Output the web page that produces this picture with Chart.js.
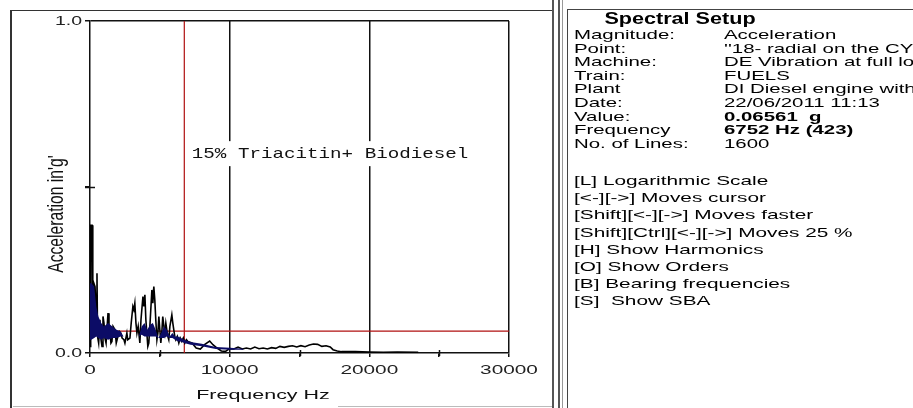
<!DOCTYPE html>
<html>
<head>
<meta charset="utf-8">
<script src="https://cdn.jsdelivr.net/npm/chart.js@4.4.1/dist/chart.umd.min.js"></script>
<style>
  html, body { margin: 0; padding: 0; background: #fff; }
  body { width: 913px; height: 408px; position: relative; overflow: hidden; font-family: "Liberation Sans", Arial, sans-serif; }
  #plot { position: absolute; left: 0; top: 0; }
  .ln { position: absolute; background: #333; }
  #setup { position: absolute; left: 567px; top: 9px; width: 346px; height: 399px; border-left: 1px solid #444; border-top: 1px solid #444; overflow: hidden; }
  #setup .t { position: absolute; white-space: pre; font-size: 13px; line-height: 14px; color: #000; transform-origin: 0 0; }
  #setup .r { transform: scaleX(1.57); }
  #setup .k { transform: scaleX(1.6); }
  #setup .b { font-weight: bold; }
  #setup .h { position: absolute; white-space: nowrap; font-size: 16px; line-height: 18px; font-weight: bold; transform: translateX(-50%) scaleX(1.35); transform-origin: 50% 0; }
</style>
</head>
<body>
<canvas id="plot" width="553" height="408"></canvas>
<div class="ln" style="left:10px;top:10px;width:2px;height:398px;"></div>
<div class="ln" style="left:10px;top:10px;width:542px;height:1px;"></div>
<div class="ln" style="left:13px;top:406px;width:177px;height:1px;background:#bbb;"></div>
<div class="ln" style="left:338px;top:406px;width:214px;height:1px;background:#bbb;"></div>
<div class="ln" style="left:552px;top:0;width:2px;height:408px;background:#555;"></div>
<div class="ln" style="left:558px;top:0;width:2px;height:408px;background:#555;"></div>
<div class="ln" style="left:562px;top:0;width:1px;height:408px;background:#999;"></div>
<div id="setup"></div>
<script>
// Spectrum trace: frequency (Hz) and acceleration (g)
const freqHz = [0, 50, 150, 200, 280, 360, 450, 500, 540, 620, 710, 790, 860, 930, 1000, 1070, 1150, 1290, 1360, 1430, 1500, 1570, 1650, 1790, 1880, 2000, 2100, 2200, 2300, 2430, 2500, 2640, 2700, 2860, 2950, 3070, 3140, 3210, 3290, 3360, 3450, 3570, 3650, 3790, 3860, 3930, 4000, 4070, 4140, 4210, 4300, 4430, 4500, 4570, 4640, 4710, 4790, 4860, 4930, 5000, 5070, 5140, 5210, 5290, 5360, 5430, 5500, 5570, 5640, 5720, 5860, 5930, 6000, 6070, 6140, 6250, 6360, 6460, 6570, 6680, 6790, 6900, 7000, 7300, 7600, 7900, 8200, 8570, 8800, 9100, 9400, 9700, 10000, 10300, 10600, 10900, 11200, 11500, 11800, 12100, 12400, 12700, 13000, 13300, 13600, 13900, 14200, 14500, 14800, 15100, 15400, 15700, 16000, 16300, 16600, 16900, 17200, 17400, 17700, 18000, 19000, 20000, 21000, 22000, 23500];
const accelG = [0.02, 0.385, 0.385, 0.05, 0.21, 0.2, 0.12, 0.24, 0.05, 0.03, 0.10, 0.04, 0.02, 0.11, 0.09, 0.045, 0.03, 0.12, 0.08, 0.06, 0.03, 0.035, 0.08, 0.07, 0.03, 0.05, 0.065, 0.06, 0.045, 0.04, 0.03, 0.06, 0.04, 0.045, 0.09, 0.14, 0.13, 0.15, 0.09, 0.06, 0.08, 0.03, 0.10, 0.17, 0.14, 0.175, 0.10, 0.06, 0.02, 0.03, 0.09, 0.19, 0.15, 0.20, 0.16, 0.10, 0.04, 0.06, 0.11, 0.07, 0.03, 0.06, 0.11, 0.08, 0.06, 0.09, 0.07, 0.05, 0.04, 0.08, 0.115, 0.09, 0.07, 0.05, 0.04, 0.05, 0.03, 0.045, 0.035, 0.045, 0.03, 0.04, 0.035, 0.03, 0.015, 0.012, 0.025, 0.036, 0.025, 0.015, 0.006, 0.005, 0.013, 0.012, 0.018, 0.012, 0.015, 0.012, 0.018, 0.013, 0.015, 0.012, 0.016, 0.014, 0.02, 0.017, 0.02, 0.022, 0.018, 0.022, 0.019, 0.024, 0.027, 0.026, 0.02, 0.022, 0.018, 0.01, 0.006, 0.004, 0.004, 0.003, 0.002, 0.003, 0.002];

// Dense low-frequency band shown in navy (lower and upper edges)
const bandHz   = [0, 100, 300, 450, 600, 800, 1000, 1300, 1600, 1900, 2200, 2400, 2700, 3000, 3300, 3500, 3700, 3900, 4100, 4300, 4500, 4700, 4900, 5100, 5300, 5500, 5700, 5900, 6100, 6300, 6500, 6750, 7200, 8000, 9000, 10000, 11000];
const bandLow  = [0.04, 0.04, 0.045, 0.05, 0.045, 0.04, 0.045, 0.04, 0.045, 0.045, 0.05, 0.05, 0.045, 0.05, 0.05, 0.05, 0.055, 0.05, 0.05, 0.05, 0.05, 0.05, 0.045, 0.045, 0.045, 0.05, 0.045, 0.045, 0.04, 0.035, 0.035, 0.03, 0.025, 0.02, 0.012, 0.01, 0.01];
const bandHigh = [0.21, 0.21, 0.20, 0.14, 0.11, 0.09, 0.08, 0.09, 0.08, 0.07, 0.065, 0.05, 0.045, 0.05, 0.05, 0.05, 0.08, 0.09, 0.07, 0.085, 0.09, 0.07, 0.045, 0.06, 0.08, 0.07, 0.05, 0.06, 0.05, 0.05, 0.045, 0.04, 0.033, 0.028, 0.018, 0.016, 0.013];

// Cursor position
const cursorHz = 6752;
const cursorG = 0.06561;

// Axis ranges and tick labels
const xRange = [0, 30000];
const yRange = [0, 1];
const xTickValues = [0, 5000, 10000, 15000, 20000, 25000, 30000];
const xLabelValues = [0, 10000, 20000, 30000];
const yTickValues = [0, 0.5, 1];
const yLabelValues = [0, 1];
const yLabelText = ['0.0', '1.0'];

const seriesLabel = '15% Triacitin+ Biodiesel';
const xTitle = 'Frequency Hz';
const yTitle = "Acceleration in'g'";

// Setup panel contents
const setupTitle = 'Spectral Setup';
const setupRows = [
  ['Magnitude:', 'Acceleration', false],
  ['Point:', "''18- radial on the CYLINDER HEAD''", false],
  ['Machine:', 'DE Vibration at full load', false],
  ['Train:', 'FUELS', false],
  ['Plant', 'DI Diesel engine with', false],
  ['Date:', '22/06/2011 11:13', false],
  ['Value:', '0.06561  g', true],
  ['Frequency', '6752 Hz (423)', true],
  ['No. of Lines:', '1600', false]
];
const helpLines = [
  '[L] Logarithmic Scale',
  '[<-][->] Moves cursor',
  '[Shift][<-][->] Moves faster',
  '[Shift][Ctrl][<-][->] Moves 25 %',
  '[H] Show Harmonics',
  '[O] Show Orders',
  '[B] Bearing frequencies',
  '[S]  Show SBA'
];

// Build setup panel
const setup = document.getElementById('setup');
const h = document.createElement('div');
h.className = 'h'; h.style.left = '112px'; h.style.top = '0px';
h.textContent = setupTitle;
setup.appendChild(h);
setupRows.forEach((r, i) => {
  const top = 18 + i * 13.6;
  const a = document.createElement('div');
  a.className = 't r'; a.style.left = '6px'; a.style.top = top + 'px'; a.textContent = r[0];
  const b = document.createElement('div');
  b.className = 't r' + (r[2] ? ' b' : ''); b.style.left = '156px'; b.style.top = top + 'px'; b.textContent = r[1];
  setup.appendChild(a); setup.appendChild(b);
});
helpLines.forEach((s, i) => {
  const d = document.createElement('div');
  d.className = 't k'; d.style.left = '6px'; d.style.top = (164 + i * 17.2) + 'px'; d.textContent = s;
  setup.appendChild(d);
});

const toPts = (xs, ys) => xs.map((x, i) => ({ x, y: ys[i] }));

// Draws a wide (horizontally stretched) text string
function wideText(ctx, str, x, y, align, sx) {
  ctx.save();
  ctx.translate(x, y);
  ctx.scale(sx, 1);
  ctx.textAlign = align;
  ctx.fillText(str, 0, 0);
  ctx.restore();
}

const textPlugin = {
  id: 'plotText',
  afterDatasetsDraw(chart) {
    const { ctx, scales } = chart;
    const xs = scales.x, ys = scales.y;
    ctx.save();
    ctx.textBaseline = 'middle';

    // series label with white backing
    ctx.font = '15px "Liberation Mono", "DejaVu Sans Mono", monospace';
    const lx = xs.getPixelForValue(7290);
    const ly = ys.getPixelForValue(0.602);
    const w = ctx.measureText(seriesLabel).width * 1.28;
    ctx.fillStyle = '#fff';
    ctx.fillRect(lx - 3, ly - 12, w + 6, 25);
    ctx.fillStyle = '#111';
    wideText(ctx, seriesLabel, lx, ly + 1, 'left', 1.28);

    // minor tick crossing marks
    ctx.strokeStyle = '#111';
    ctx.lineWidth = 1.5;
    [5000, 15000, 25000].forEach(v => {
      const px = Math.round(xs.getPixelForValue(v)) + 0.5;
      ctx.beginPath(); ctx.moveTo(px, ys.bottom - 3); ctx.lineTo(px, ys.bottom + 3); ctx.stroke();
    });
    const py = Math.round(ys.getPixelForValue(0.5)) + 0.5;
    ctx.beginPath(); ctx.moveTo(xs.left - 5, py); ctx.lineTo(xs.left + 5, py); ctx.stroke();

    // tick labels
    ctx.font = '13px "Liberation Sans", Arial, sans-serif';
    ctx.fillStyle = '#222';
    xLabelValues.forEach(v => wideText(ctx, String(v), xs.getPixelForValue(v), ys.bottom + 17, 'center', 1.6));
    yLabelValues.forEach((v, i) => wideText(ctx, yLabelText[i], xs.left - 8, ys.getPixelForValue(v), 'right', 1.5));

    // axis titles
    ctx.fillStyle = '#111';
    wideText(ctx, xTitle, 263, 395, 'center', 1.65);
    ctx.translate(57, 214);
    ctx.rotate(-Math.PI / 2);
    ctx.scale(1.12, 1.6);
    ctx.font = '14px "Liberation Sans", Arial, sans-serif';
    ctx.textAlign = 'center';
    ctx.fillText(yTitle, 0, 0);
    ctx.restore();
  }
};

new Chart(document.getElementById('plot'), {
  type: 'line',
  data: {
    datasets: [
      { data: toPts(bandHz, bandLow), borderWidth: 0, pointRadius: 0, fill: false, borderColor: 'rgba(0,0,0,0)' },
      { data: toPts(bandHz, bandHigh), borderWidth: 0, pointRadius: 0, fill: '-1', borderColor: 'rgba(0,0,0,0)', backgroundColor: '#0c0c66' },
      { data: toPts(freqHz, accelG), borderColor: '#000', borderWidth: 1.6, pointRadius: 0, fill: false, tension: 0 },
      { data: toPts(xRange, [cursorG, cursorG]), borderColor: '#b01010', borderWidth: 1.2, pointRadius: 0, fill: false },
      { data: toPts([cursorHz, cursorHz], yRange), borderColor: '#b01010', borderWidth: 1.2, pointRadius: 0, fill: false }
    ]
  },
  options: {
    responsive: false,
    animation: false,
    devicePixelRatio: 1,
    layout: { padding: { left: 0, top: 21, right: 44, bottom: 0 } },
    plugins: { legend: { display: false }, tooltip: { enabled: false } },
    scales: {
      x: {
        type: 'linear', min: xRange[0], max: xRange[1],
        afterFit: s => { s.height = 55; },
        afterBuildTicks: s => { s.ticks = xTickValues.map(v => ({ value: v })); },
        ticks: { autoSkip: false, maxRotation: 0, color: 'rgba(0,0,0,0)', callback: v => String(v) },
        grid: {
          color: c => (c.tick && c.tick.value > 0 && c.tick.value % 10000 === 0) ? '#111' : 'rgba(0,0,0,0)',
          lineWidth: 1.5, drawTicks: true, tickLength: 4, tickColor: '#111', tickWidth: 1.5
        },
        border: { display: true, color: '#111', width: 1.5 }
      },
      y: {
        type: 'linear', min: yRange[0], max: yRange[1],
        afterFit: s => { s.width = 90; },
        afterBuildTicks: s => { s.ticks = yTickValues.map(v => ({ value: v })); },
        ticks: { autoSkip: false, color: 'rgba(0,0,0,0)', callback: v => String(v) },
        grid: {
          color: c => (c.tick && c.tick.value === 1) ? '#111' : 'rgba(0,0,0,0)',
          lineWidth: 1.5, drawTicks: true, tickLength: 5, tickColor: '#111', tickWidth: 1.5
        },
        border: { display: true, color: '#111', width: 1.5 }
      }
    }
  },
  plugins: [textPlugin]
});
</script>
</body>
</html>
